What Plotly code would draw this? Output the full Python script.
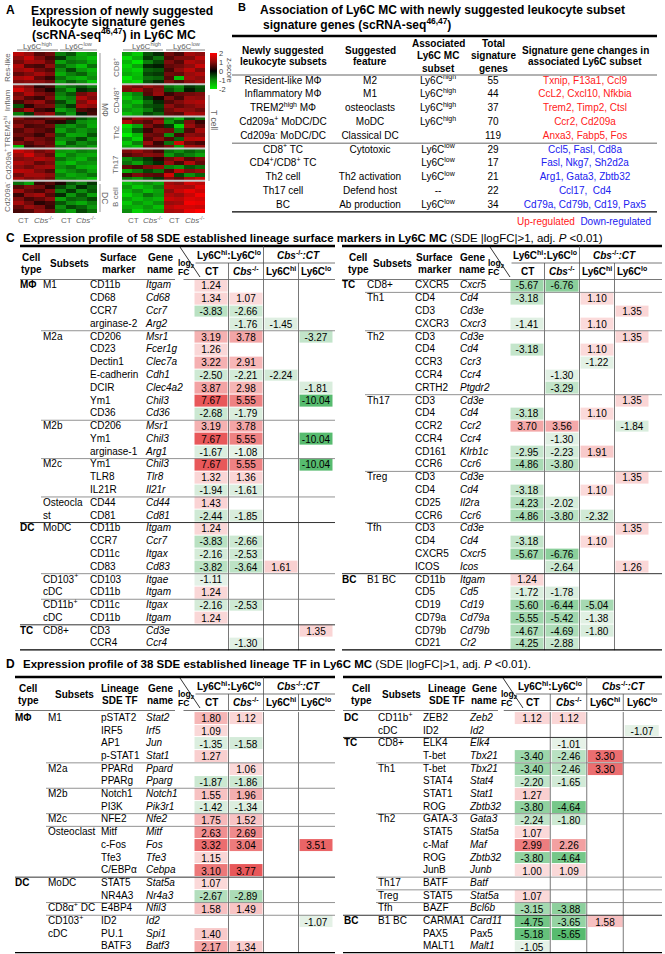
import plotly.graph_objects as go

W, H = 665, 954
FONT = "Liberation Sans, Arial, sans-serif"

# ---------------- A: scRNA-seq signature genes, z-scores (8 rows per block, 8 samples)
A_LEFT_LABELS = ["Res-like", "Inflam", "TREM2<sup>hi</sup>", "Cd209a<sup>+</sup>", "Cd209a<sup>-</sup>"]
A_RIGHT_LABELS = ["CD8<sup>+</sup>", "CD4/8<sup>+</sup>", "Th2", "Th17", "B cell"]
A_GROUPS = ["Ly6C<sup>high</sup>", "Ly6C<sup>low</sup>"]
A_SAMPLES = ["CT", "<i>Cbs</i><sup>-/-</sup>", "CT", "<i>Cbs</i><sup>-/-</sup>"]

A_RES_LIKE = [
    [1.4, 1.1, 0.6, 0.8, -0.9, -0.6, -1.3, -1.1],
    [1.0, 1.5, 0.9, 0.5, -0.4, -1.0, -1.2, -1.5],
    [0.8, 1.2, 1.1, 0.7, -1.2, -0.8, -0.9, -1.3],
    [1.3, 0.6, 0.5, 1.0, -0.7, -1.1, -1.5, -0.8],
    [1.1, 1.3, 0.8, 0.6, -1.0, -0.5, -1.1, -1.4],
    [0.7, 0.9, 1.2, 0.9, -1.3, -0.9, -0.7, -1.2],
    [1.2, 1.4, 0.7, 0.4, -0.8, -1.2, -1.4, -1.0],
    [0.9, 1.0, 1.0, 0.8, -1.1, -0.7, -1.0, -1.6],
]
A_INFLAM = [
    [1.2, 0.9, 0.3, 0.5, -1.0, -0.8, -0.6, -0.9],
    [1.6, 1.1, 0.6, 0.2, -0.7, -1.2, -0.3, -0.5],
    [0.8, 1.3, 0.9, 0.7, -0.9, -0.6, 0.8, 1.1],
    [1.0, 0.6, 0.4, 0.9, -1.1, -0.9, 1.3, 0.9],
    [0.5, 0.9, 1.1, 0.6, -0.5, -1.0, 0.9, 1.4],
    [-0.6, 0.3, 0.8, 0.9, -0.8, -0.4, 1.2, 1.0],
    [0.7, 1.2, 0.5, 0.3, -1.2, -0.9, 0.6, 0.4],
    [-0.9, -0.4, 0.9, 1.1, -0.6, -1.1, -0.2, 0.5],
]
A_TREM2 = [
    [0.9, 0.6, 0.5, 0.7, 0.8, 0.5, -0.6, -0.9],
    [0.7, 0.8, 0.9, 0.4, 0.3, -0.4, -1.0, -1.2],
    [1.0, 0.5, 0.6, 0.8, -0.9, -1.1, -0.8, -1.3],
    [0.6, 0.9, 0.7, 0.5, -1.2, -0.8, -1.1, -0.9],
    [0.8, 0.7, 0.4, 0.9, -0.7, -1.3, -1.2, -0.6],
    [0.5, 1.0, 0.8, 0.6, -1.0, -0.9, -0.5, -1.1],
    [0.9, 0.6, 0.9, 0.7, -1.4, -0.6, -1.0, -0.8],
    [-1.5, 0.4, 0.6, 0.8, -0.8, -1.0, -0.9, -1.2],
]
A_CD209_POS = [
    [1.5, 1.2, 0.8, 1.0, -1.1, -1.2, -0.9, -1.0],
    [1.1, 1.6, 1.0, 0.7, -1.4, -0.9, -1.2, -1.3],
    [0.9, 1.0, 1.3, 1.1, -0.8, -1.1, -1.4, -0.9],
    [1.3, 1.1, 0.7, 0.9, -1.2, -1.5, -1.0, -1.1],
    [1.0, 0.8, 1.1, 1.2, -1.0, -0.8, -1.3, -1.4],
    [1.4, 1.3, 0.9, 0.6, -1.3, -1.0, -0.8, -1.2],
    [0.8, 1.2, 1.2, 1.0, -0.9, -1.3, -1.1, -0.8],
    [1.2, 0.9, 1.0, 0.8, -1.1, -1.0, -1.2, -1.5],
]
A_CD209_NEG = [
    [-0.8, -1.2, 0.4, 0.6, 0.2, -0.6, -0.9, -0.4],
    [0.6, 0.9, 0.8, 0.3, -0.5, -0.9, -0.3, -0.7],
    [1.1, 0.7, 0.5, 0.9, -0.9, -0.4, -1.0, -0.6],
    [0.4, 1.0, 1.2, 0.6, -0.3, -1.1, -0.6, -1.2],
    [0.9, 0.5, 0.7, 1.0, -1.2, -0.7, -0.8, -0.5],
    [1.2, 0.8, 0.3, 0.5, -0.6, -1.0, -1.3, -0.9],
    [0.7, 1.1, 0.9, 0.4, -1.0, -0.5, -0.7, -1.1],
    [0.5, 0.6, 1.0, 0.8, -0.8, -1.2, -0.5, -0.8],
]
A_CD8 = [
    [-1.2, -1.6, -0.6, -0.3, 0.8, 0.5, 1.2, 1.0],
    [-1.8, -1.3, -0.4, -0.8, 0.6, 0.9, 0.9, 1.4],
    [-1.4, -1.9, -0.9, -0.5, 0.9, 0.6, 1.3, 1.1],
    [-1.7, -1.2, -0.3, -0.2, 0.7, 0.8, 1.0, 1.5],
    [-1.5, -1.7, -0.7, -0.6, 0.5, 1.0, 1.4, 0.9],
    [-1.3, -1.5, -0.5, -0.4, 0.8, 0.7, 1.1, 1.3],
    [-1.9, -1.4, -0.8, -0.7, 0.6, -1.5, 1.2, 1.0],
    [-1.6, -1.8, -0.6, -0.3, 0.9, 0.6, 1.0, 1.2],
]
A_CD48 = [
    [1.0, 0.8, 1.1, 0.9, -0.8, -1.0, -0.4, -0.6],
    [0.9, 1.2, 0.7, 1.0, -0.6, -0.9, -0.2, -0.5],
    [-1.3, -0.9, 0.6, 1.1, 0.4, 0.7, 0.8, 0.9],
    [-1.6, -1.1, -0.4, 0.2, 0.9, 0.5, 1.1, 1.0],
    [-1.2, -1.5, -0.8, -0.3, 0.6, 0.9, 1.2, 1.3],
    [-1.4, -1.0, -0.6, -0.5, 1.0, 0.7, 0.9, 1.1],
    [-1.1, -1.3, -0.9, -0.4, 0.8, 1.1, 1.0, 0.8],
    [-1.5, -1.2, -0.5, -0.7, 0.7, 0.6, 1.3, 1.2],
]
A_TH2 = [
    [0.7, 1.2, 1.0, 0.8, -0.9, -1.4, -0.5, -0.8],
    [1.3, 0.8, 0.6, 1.1, -1.1, -0.6, 0.9, 0.4],
    [-1.8, -1.2, 0.9, 0.5, -0.4, -1.7, 1.1, 0.7],
    [-1.5, -0.6, 0.4, 0.9, 0.8, -0.9, 0.6, 1.2],
    [-2.0, -1.4, 0.8, 0.7, -1.0, 0.5, 1.0, 0.9],
    [-1.1, -1.7, 0.6, 1.0, 0.6, -0.7, 1.3, 1.4],
    [-1.6, -0.9, 1.1, 0.4, -0.8, 1.6, 0.7, 0.5],
    [-1.3, -1.5, 0.7, 0.6, 0.9, -1.2, 1.2, 1.1],
]
A_TH17 = [
    [0.9, 1.1, 0.8, 0.5, -0.8, -1.0, -0.7, -0.9],
    [0.6, 0.8, 1.0, 0.9, -1.1, -0.7, -0.9, -1.2],
    [-1.0, -0.7, -0.4, 0.3, 0.8, 1.2, 0.6, 0.9],
    [-0.8, -1.2, -0.6, -0.3, 1.1, 0.5, 1.3, 0.7],
    [0.7, 0.5, 0.9, 1.1, -0.9, -1.1, -0.6, -0.8],
    [-1.3, -0.9, -0.5, -0.8, 0.6, 1.4, 0.9, 1.1],
    [0.5, 0.9, 0.7, 0.6, 1.6, -0.5, -1.0, -0.7],
    [-0.9, -1.1, -0.7, -0.4, 0.9, 0.7, 1.2, 1.5],
]
A_BCELL = [
    [-1.5, -1.2, -1.0, -1.3, 1.2, 1.0, 1.6, 1.4],
    [-1.1, -1.6, -1.3, -0.9, 1.4, 1.3, 1.2, 1.7],
    [-1.4, -1.0, -1.5, -1.2, 1.0, 1.5, 1.8, 1.5],
    [-1.7, -1.3, -0.8, -1.1, 1.3, 1.1, 1.5, 1.9],
    [-1.2, -1.5, -1.2, -1.4, 1.5, 1.4, 1.7, 1.6],
    [-1.6, -1.1, -1.4, -1.0, 1.1, 1.2, 1.9, 1.8],
    [-1.3, -1.4, -1.1, -1.5, 1.4, 1.6, 1.6, 1.5],
    [-1.0, -1.7, -1.3, -1.2, 1.2, 1.3, 1.8, 2.0],
]

# ---------------- B: association table
B_SUBSET = ["Resident-like MΦ", "Inflammatory MΦ", "TREM2<sup>high</sup> MΦ", "Cd209a<sup>+</sup> MoDC/DC",
            "Cd209a<sup>-</sup> MoDC/DC", "CD8<sup>+</sup> TC", "CD4<sup>+</sup>/CD8<sup>+</sup> TC",
            "Th2 cell", "Th17 cell", "BC"]
B_FEATURE = ["M2", "M1", "osteoclasts", "MoDC", "Classical DC", "Cytotoxic", "", "Th2 activation",
             "Defend host", "Ab production"]
B_ASSOC = ["Ly6C<sup>high</sup>"] * 4 + [""] + ["Ly6C<sup>low</sup>"] * 3 + ["--", "Ly6C<sup>low</sup>"]
B_TOTAL = [55, 44, 37, 70, 119, 29, 17, 21, 22, 34]
B_GENES = ["Txnip, F13a1, Ccl9", "CcL2, Cxcl10, Nfkbia", "Trem2, Timp2, Ctsl", "Ccr2, Cd209a",
           "Anxa3, Fabp5, Fos", "Ccl5, Fasl, Cd8a", "Fasl, Nkg7, Sh2d2a", "Arg1, Gata3, Zbtb32",
           "Ccl17,  Cd4", "Cd79a, Cd79b, Cd19, Pax5"]
B_DIRECTION = ["up"] * 5 + ["down"] * 5

# ---------------- C: surface markers, log2FC
C_L_TYPE = {0: "MΦ", 19: "DC", 27: "TC"}
C_L_SUBSET = {0: "M1", 4: "M2a", 11: "M2b", 14: "M2c", 17: "Osteocla", 18: "st", 19: "MoDC",
              23: "CD103<sup>+</sup>", 24: "cDC", 25: "CD11b<sup>+</sup>", 26: "cDC", 27: "CD8+"}
C_L_MARKER = ["CD11b", "CD68", "CCR7", "arginase-2", "CD206", "CD23", "Dectin1", "E-cadherin", "DCIR",
              "Ym1", "CD36", "CD206", "Ym1", "arginase-1", "Ym1", "TLR8", "IL21R", "CD44", "CD81",
              "CD11b", "CCR7", "CD11c", "CD83", "CD103", "CD11b", "CD11c", "CD11b", "CD3", "CCR4"]
C_L_GENE = ["Itgam", "Cd68", "Ccr7", "Arg2", "Msr1", "Fcer1g", "Clec7a", "Cdh1", "Clec4a2", "Chil3",
            "Cd36", "Msr1", "Chil3", "Arg1", "Chil3", "Tlr8", "Il21r", "Cd44", "Cd81", "Itgam", "Ccr7",
            "Itgax", "Cd83", "Itgae", "Itgam", "Itgax", "Itgam", "Cd3e", "Ccr4"]
C_L_CT = [1.24, 1.34, -3.83, None, 3.19, 1.26, 3.22, -2.50, 3.87, 7.67, -2.68, 3.19, 7.67, -1.67, 7.67,
          1.32, -1.94, 1.43, -2.44, 1.24, -3.83, -2.16, -3.82, -1.11, 1.24, -2.16, 1.24, None, None]
C_L_CBS = [None, 1.07, -2.66, -1.76, 3.78, None, 2.91, -2.21, 2.98, 5.55, -1.79, 3.78, 5.55, -1.08, 5.55,
           1.36, -1.61, None, -1.85, None, -2.66, -2.53, -3.64, None, None, -2.53, None, None, -1.30]
C_L_HI = [None, None, None, -1.45, None, None, None, -2.24, None, None, None, None, None, None, None,
          None, None, None, None, None, None, None, 1.61, None, None, None, None, None, None]
C_L_LO = [None, None, None, None, -3.27, None, None, None, -1.81, -10.04, None, None, -10.04, None, -10.04,
          None, None, None, None, None, None, None, None, None, None, None, None, 1.35, None]
C_L_SUB_BREAKS = [3.5, 10.5, 13.5, 16.5, 22.5, 24.5]
C_L_TYPE_BREAKS = [18.5, 26.5]

C_R_TYPE = {0: "TC", 23: "BC"}
C_R_SUBSET = {0: "CD8+", 1: "Th1", 4: "Th2", 9: "Th17", 15: "Treg", 19: "Tfh", 23: "B1 BC"}
C_R_MARKER = ["CXCR5", "CD4", "CD3", "CXCR3", "CD3", "CD4", "CCR3", "CCR4", "CRTH2", "CD3", "CD4", "CCR2",
              "CCR4", "CD161", "CCR6", "CD3", "CD4", "CD25", "CCR6", "CD3", "CD4", "CXCR5", "ICOS",
              "CD11b", "CD5", "CD19", "CD79a", "CD79b", "CD21"]
C_R_GENE = ["Cxcr5", "Cd4", "Cd3e", "Cxcr3", "Cd3e", "Cd4", "Ccr3", "Ccr4", "Ptgdr2", "Cd3e", "Cd4", "Ccr2",
            "Ccr4", "Klrb1c", "Ccr6", "Cd3e", "Cd4", "Il2ra", "Ccr6", "Cd3e", "Cd4", "Cxcr5", "Icos",
            "Itgam", "Cd5", "Cd19", "Cd79a", "Cd79b", "Cr2"]
C_R_CT = [-5.67, -3.18, None, -1.41, None, -3.18, None, None, None, None, -3.18, 3.70, None, -2.95, -4.86,
          None, -3.18, -4.23, -4.86, None, -3.18, -5.67, None, 1.24, -1.72, -5.60, -5.55, -4.67, -4.25]
C_R_CBS = [-6.76, None, None, None, None, None, None, -1.30, -3.29, None, None, 3.56, -1.30, -2.23, -3.80,
           None, None, -2.02, -3.80, None, None, -6.76, -2.64, None, -1.78, -6.44, -5.42, -4.69, -2.88]
C_R_HI = [None, 1.10, None, 1.10, None, 1.10, -1.22, None, None, None, 1.10, None, None, 1.91, None,
          None, 1.10, None, -2.32, None, 1.10, None, None, None, None, -5.04, -1.38, -1.80, None]
C_R_LO = [None, None, 1.35, None, 1.35, None, None, None, None, 1.35, None, -1.84, None, None, None,
          1.35, None, None, None, 1.35, None, None, 1.26, None, None, None, None, None, None]
C_R_SUB_BREAKS = [0.5, 3.5, 8.5, 14.5, 18.5]
C_R_TYPE_BREAKS = [22.5]

# ---------------- D: transcription factors, log2FC
D_L_TYPE = {0: "MΦ", 13: "DC"}
D_L_SUBSET = {0: "M1", 4: "M2a", 6: "M2b", 8: "M2c", 9: "Osteoclast", 13: "MoDC",
              15: "CD8α<sup>+</sup> DC", 16: "CD103<sup>+</sup>", 17: "cDC"}
D_L_TF = ["pSTAT2", "IRF5", "AP1", "p-STAT1", "PPARd", "PPARg", "Notch1", "PI3K", "NFE2", "Mitf", "c-Fos",
          "Tfe3", "C/EBPα", "STAT5", "NR4A3", "E4BP4", "ID2", "PU.1", "BATF3"]
D_L_GENE = ["Stat2", "Irf5", "Jun", "Stat1", "Ppard", "Pparg", "Notch1", "Pik3r1", "Nfe2", "Mitf", "Fos",
            "Tfe3", "Cebpa", "Stat5a", "Nr4a3", "Nfil3", "Id2", "Spi1", "Batf3"]
D_L_CT = [1.80, 1.09, -1.35, 1.27, None, -1.87, 1.55, -1.42, 1.75, 2.63, 3.32, 1.15, 3.10, 1.07, -2.67,
          1.58, None, 1.40, 2.17]
D_L_CBS = [1.12, None, -1.58, None, 1.06, -1.86, 1.96, -1.34, 1.52, 2.69, 3.04, None, 3.77, None, -2.89,
           1.49, None, None, 1.34]
D_L_HI = [None] * 19
D_L_LO = [None] * 10 + [3.51] + [None] * 5 + [-1.07, None, None]
D_L_SUB_BREAKS = [3.5, 5.5, 7.5, 8.5, 14.5, 15.5]
D_L_TYPE_BREAKS = [12.5]

D_R_TYPE = {0: "DC", 2: "TC", 16: "BC"}
D_R_SUBSET = {0: "CD11b<sup>+</sup>", 1: "cDC", 2: "CD8+", 4: "Th1", 8: "Th2", 13: "Th17", 14: "Treg",
              15: "Tfh", 16: "B1 BC"}
D_R_TF = ["ZEB2", "ID2", "ELK4", "T-bet", "T-bet", "STAT4", "STAT1", "ROG", "GATA-3", "STAT5", "c-Maf",
          "ROG", "JunB", "BATF", "STAT5", "BAZF", "CARMA1", "PAX5", "MALT1"]
D_R_GENE = ["Zeb2", "Id2", "Elk4", "Tbx21", "Tbx21", "Stat4", "Stat1", "Zbtb32", "Gata3", "Stat5a", "Maf",
            "Zbtb32", "Junb", "Batf", "Stat5a", "Bcl6b", "Card11", "Pax5", "Malt1"]
D_R_CT = [1.12, None, None, -3.40, -3.40, -2.20, 1.27, -3.80, -2.24, 1.07, 2.99, -3.80, 1.00, None, 1.07,
          -3.15, -4.75, -5.18, -1.05]
D_R_CBS = [1.12, None, -1.01, -2.46, -2.46, -1.65, None, -4.64, -1.80, None, 2.26, -4.64, 1.09, None, None,
           -3.88, -3.65, -5.65, None]
D_R_HI = [None, None, None, 3.30, 3.30] + [None] * 11 + [1.58, None, None]
D_R_LO = [None, -1.07] + [None] * 17
D_R_SUB_BREAKS = [3.5, 7.5, 12.5, 13.5, 14.5]
D_R_TYPE_BREAKS = [1.5, 15.5]
D_UPRIGHT_GENES = {"Pax5"}


fig = go.Figure()


def dom(top, bottom):
    return [1 - bottom / H, 1 - top / H]


def ann(x, y, text, size=10, anchor="center", color="black", angle=0, yref="y"):
    fig.add_annotation(x=x, y=y, xref="x", yref=yref, text=text, showarrow=False, xanchor=anchor,
                       yanchor="middle", textangle=angle, borderpad=0,
                       font=dict(family=FONT, size=size, color=color))


def line(x0, y0, x1, y1, width=1, color="black", yref="y"):
    fig.add_shape(type="line", x0=x0, y0=y0, x1=x1, y1=y1, xref="x", yref=yref,
                  line=dict(color=color, width=width))


def text_col(x, texts, yaxis, size=10, anchor="middle right", color="black"):
    rows = [i for i, t in enumerate(texts) if t]
    fig.add_trace(go.Scatter(x=[x] * len(rows), y=rows, mode="text", text=[texts[i] for i in rows],
                             textposition=anchor, yaxis=yaxis, hoverinfo="skip", cliponaxis=False,
                             marker=dict(size=1),
                             textfont=dict(family=FONT, size=size, color=color)))


def fc_scale(zmin, zmax):
    def p(v):
        return (v - zmin) / (zmax - zmin)
    return [[0, "#57bb6f"], [p(-1), "#e6f2e8"], [p(0), "#ffffff"], [p(1), "#fbdcdc"], [1, "#e8585a"]]


# ================= panel A =================
ann(5, 10, "<b>A</b>", size=12, anchor="left")
ann(30, 11, "<b>Expression of newly suggested</b>", size=12.2, anchor="left")
ann(31, 22, "<b>leukocyte signature genes</b>", size=12.2, anchor="left")
ann(31, 33.5, "<b>(scRNA-seq<sup>46,47</sup>) in Ly6C MC</b>", size=12.2, anchor="left")

A_SCALE = [[0, "#00f000"], [0.25, "#0c8c0c"], [0.5, "#000000"], [0.75, "#8c0c0c"], [1, "#ff0000"]]
a_left = A_RES_LIKE + A_INFLAM + A_TREM2 + A_CD209_POS + A_CD209_NEG
a_right = A_CD8 + A_CD48 + A_TH2 + A_TH17 + A_BCELL
n_a = len(a_left)
fig.add_trace(go.Heatmap(z=a_left, x0=18.25, dx=10.5, y0=0, dy=1, yaxis="y5", colorscale=A_SCALE,
                         zmin=-2, zmax=2, hoverinfo="skip",
                         colorbar=dict(x=210 / W, xanchor="left", y=1 - 53 / H, yanchor="top",
                                       len=36, lenmode="pixels", thickness=7, thicknessmode="pixels",
                                       outlinewidth=0, xpad=0, ypad=0, ticks="", ticklen=0,
                                       tickvals=[2, 1, 0, -1, -2], ticktext=["2", "1", "0", "-1", "-2"],
                                       tickfont=dict(family=FONT, size=7.5, color="#444"))))
fig.add_trace(go.Heatmap(z=a_right, x0=127.2, dx=10.4, y0=0, dy=1, yaxis="y5", colorscale=A_SCALE,
                         zmin=-2, zmax=2, showscale=False, hoverinfo="skip"))
ann(230, 70, "z-score", size=7.5, color="#444", angle=90)
for b in range(1, 5):
    line(13, b * 8 - 0.5, 97, b * 8 - 0.5, width=2, color="#c8c8c8", yref="y5")
    line(122, b * 8 - 0.5, 205, b * 8 - 0.5, width=2, color="#c8c8c8", yref="y5")
for b in range(5):
    ann(7, b * 8 + 3.5, A_LEFT_LABELS[b], size=8, color="#666", angle=-90, yref="y5")
    ann(116, b * 8 + 3.5, A_RIGHT_LABELS[b], size=8, color="#666", angle=-90, yref="y5")
for x0, x1 in [(17, 58), (60, 97), (123, 163), (166, 205)]:
    line(x0, 50, x1, 50, color="#888")
for i, cx in enumerate([37, 79, 146, 187]):
    ann(cx, 45.5, A_GROUPS[i % 2], size=8, color="#666")
for i, cx in enumerate([23, 44, 66, 86, 133, 153, 174, 195]):
    ann(cx, 220, A_SAMPLES[i % 4], size=8, color="#666")
line(100, 53, 100, 181, color="#999")
line(100, 184, 100, 212, color="#999")
line(209, 95, 209, 181, color="#999")
ann(105, 110, "MΦ", size=8.5, color="#666", angle=90)
ann(105, 198, "DC", size=8.5, color="#666", angle=90)
ann(214, 120, "T cell", size=8.5, color="#666", angle=90)

# ================= panel B =================
ann(237, 7, "<b>B</b>", size=11, anchor="left")
ann(259, 10, "<b>Association of Ly6C MC with newly suggested leukocyte subset</b>", size=12, anchor="left")
ann(262, 24, "<b>signature genes (scRNA-seq<sup>46,47</sup>)</b>", size=12, anchor="left")
line(232, 36, 657, 36, width=2.5)
B_X = [283, 370, 438, 493, 585]
for cx, lines_ in zip(B_X, [["Newly suggested", "leukocyte subsets"], ["Suggested", "feature"],
                            ["Associated", "Ly6C MC", "subset"], ["Total", "signature", "genes"],
                            ["Signature gene changes in", "associated Ly6C subset"]]):
    ys = [50, 61] if len(lines_) == 2 else [43, 55.5, 68]
    for yy, tt in zip(ys, lines_):
        ann(cx, yy, f"<b>{tt}</b>", size=10)
line(232, 75, 657, 75, width=1.5, color="#999")
b_colors = ["#ff2020" if d == "up" else "#2020f0" for d in B_DIRECTION]
text_col(B_X[0], B_SUBSET, "y4", size=10, anchor="middle center")
text_col(B_X[1], B_FEATURE, "y4", size=10, anchor="middle center")
text_col(B_X[2], B_ASSOC, "y4", size=10, anchor="middle center")
text_col(B_X[3], [str(v) for v in B_TOTAL], "y4", size=10, anchor="middle center")
fig.add_trace(go.Scatter(x=[B_X[4]] * len(B_GENES), y=list(range(len(B_GENES))), mode="text",
                         text=B_GENES, textposition="middle center", yaxis="y4", hoverinfo="skip",
                         textfont=dict(family=FONT, size=10, color=b_colors)))
line(232, 4.5, 657, 4.5, width=1.5, color="#999", yref="y4")
line(232, 9.5, 657, 9.5, width=2.5, yref="y4")
ann(652, 221, '<span style="color:#ff2020">Up-regulated</span>  '
              '<span style="color:#2020f0">Down-regulated</span>', size=10, anchor="right")


# ================= tables C and D =================
def table(pos, top, yaxis, kind, cell, subset, marker, gene, ct, cbs, hi, lo, sub_breaks, type_breaks,
          zmin, zmax):
    n = len(gene)
    x_left, x_right = pos["left"], pos["right"]
    v = pos["val"]
    dx = pos["dx"]
    # header
    line(x_left, top, x_right, top, width=2.5)
    ann(pos["h_cell"], top + 11, "<b>Cell</b>")
    ann(pos["h_cell"], top + 23, "<b>type</b>")
    ann(pos["h_sub"], top + 17, "<b>Subsets</b>")
    first, second = ("Surface", "marker") if kind == "C" else ("Lineage", "SDE TF")
    ann(pos["h_mk"], top + 11, f"<b>{first}</b>")
    ann(pos["h_mk"], top + 23, f"<b>{second}</b>")
    ann(pos["h_gene"], top + 11, "<b>Gene</b>")
    ann(pos["h_gene"], top + 23, "<b>name</b>")
    ann(pos["fc"], top + 17, "<b>log<sub>2</sub></b>", size=8.5, anchor="left")
    ann(pos["fc"], top + 26, "<b>FC</b>", size=8.5, anchor="left")
    line(pos["fc"] + 3, top + 1, pos["fc"] + 23, top + 31, width=0.8)
    ann(v + dx / 2, top + 9, "<b>Ly6C<sup>hi</sup>:Ly6C<sup>lo</sup></b>")
    ann(v + 2.5 * dx, top + 9, "<b><i>Cbs</i><sup>-/-</sup><i>:CT</i></b>")
    for k, t in enumerate(["CT", "<i>Cbs</i><sup>-/-</sup>", "Ly6C<sup>hi</sup>", "Ly6C<sup>lo</sup>"]):
        ann(v + k * dx, top + 25, f"<b>{t}</b>")
    line(v - dx / 2 + 2, top + 17, x_right, top + 17, width=0.8, color="#555")
    line(v - dx / 2 - 10, top + 33.5, x_right, top + 33.5, width=0.8, color="#555")
    line(x_left, top + 33.5, pos["fc"] - 2, top + 33.5, width=0.8, color="#555")
    # value cells
    z = [[ct[i], cbs[i], hi[i], lo[i]] for i in range(n)]
    txt = [["" if c is None else f"{c:.2f}" for c in r] for r in z]
    fig.add_trace(go.Heatmap(z=z, text=txt, texttemplate="%{text}", x0=v, dx=dx, y0=0, dy=1,
                             yaxis=yaxis, colorscale=fc_scale(zmin, zmax), zmin=zmin, zmax=zmax,
                             showscale=False, xgap=2, ygap=1, hoverinfo="skip",
                             textfont=dict(family=FONT, size=10, color="black")))
    # text columns
    text_col(pos["cell"], [f"<b>{cell[i]}</b>" if i in cell else "" for i in range(n)], yaxis)
    text_col(pos["sub"], [subset.get(i, "") for i in range(n)], yaxis)
    text_col(pos["mk"], marker, yaxis)
    text_col(pos["gene"], [g if g in D_UPRIGHT_GENES else f"<i>{g}</i>" for g in gene], yaxis)
    # rules
    for k in (1, 2, 3):
        y_start = top + 17 if k != 2 else top
        line(v - dx / 2 + k * dx, y_start, v - dx / 2 + k * dx, top + 33.5, width=0.8, color="#555")
        line(v - dx / 2 + k * dx, -0.5, v - dx / 2 + k * dx, n - 0.5, width=0.8, color="#555",
             yref=yaxis)
    for b in sub_breaks:
        line(pos["sub"] - 2, b, x_right, b, width=0.8, color="#777", yref=yaxis)
    for b in type_breaks:
        line(x_left, b, x_right, b, width=1, color="#333", yref=yaxis)
    line(x_left, n - 0.5, x_right, n - 0.5, width=2.5, yref=yaxis)


C_TOP, D_TOP = 246, 677
POS_C_L = dict(left=20, right=335, cell=20, sub=43, mk=90, gene=146, val=211, dx=35,
               h_cell=31, h_sub=69, h_mk=118, h_gene=160, fc=177)
POS_C_R = dict(left=342, right=662, cell=342, sub=367, mk=415, gene=460, val=527, dx=35,
               h_cell=358, h_sub=392, h_mk=434, h_gene=472, fc=487)
POS_D_L = dict(left=15, right=335, cell=15, sub=48, mk=101, gene=146, val=211, dx=35,
               h_cell=28, h_sub=74, h_mk=120, h_gene=160, fc=177)
POS_D_R = dict(left=343, right=662, cell=344, sub=378, mk=423, gene=470, val=532, dx=36.5,
               h_cell=361, h_sub=401, h_mk=447, h_gene=484, fc=500)

ann(5, 238, "<b>C</b>", size=12, anchor="left")
ann(22, 238, "<b>Expression profile of 58 SDE established lineage surface markers in Ly6C MC</b> "
             "(SDE |logFC|>1, adj. <i>P</i> <0.01)", size=11.5, anchor="left")
table(POS_C_L, C_TOP, "y2", "C", C_L_TYPE, C_L_SUBSET, C_L_MARKER, C_L_GENE, C_L_CT, C_L_CBS, C_L_HI,
      C_L_LO, C_L_SUB_BREAKS, C_L_TYPE_BREAKS, -10.04, 7.67)
table(POS_C_R, C_TOP, "y2", "C", C_R_TYPE, C_R_SUBSET, C_R_MARKER, C_R_GENE, C_R_CT, C_R_CBS, C_R_HI,
      C_R_LO, C_R_SUB_BREAKS, C_R_TYPE_BREAKS, -10.04, 7.67)

ann(5, 664, "<b>D</b>", size=12, anchor="left")
ann(22, 664, "<b>Expression profile of 38 SDE established lineage TF in Ly6C MC</b> "
             "(SDE |logFC|>1, adj. <i>P</i> <0.01).", size=11.5, anchor="left")
table(POS_D_L, D_TOP, "y3", "D", D_L_TYPE, D_L_SUBSET, D_L_TF, D_L_GENE, D_L_CT, D_L_CBS, D_L_HI,
      D_L_LO, D_L_SUB_BREAKS, D_L_TYPE_BREAKS, -5.65, 3.77)
table(POS_D_R, D_TOP, "y3", "D", D_R_TYPE, D_R_SUBSET, D_R_TF, D_R_GENE, D_R_CT, D_R_CBS, D_R_HI,
      D_R_LO, D_R_SUB_BREAKS, D_R_TYPE_BREAKS, -5.65, 3.77)

c_top = 286 - 12.786 / 2
d_top = 718.4 - 12.7 / 2
b_top = 81 - 13.83 / 2
hidden = dict(visible=False, fixedrange=True, anchor="x")
fig.update_layout(
    width=W, height=H, margin=dict(l=0, r=0, t=0, b=0), paper_bgcolor="white",
    plot_bgcolor="rgba(0,0,0,0)", showlegend=False,
    xaxis=dict(range=[0, W], domain=[0, 1], visible=False, fixedrange=True),
    yaxis=dict(range=[H, 0], domain=[0, 1], visible=False, fixedrange=True),
    yaxis2=dict(range=[28.5, -0.5], domain=dom(c_top, c_top + 29 * 12.786), **hidden),
    yaxis3=dict(range=[18.5, -0.5], domain=dom(d_top, min(H, d_top + 19 * 12.7)), **hidden),
    yaxis4=dict(range=[9.5, -0.5], domain=dom(b_top, b_top + 10 * 13.83), **hidden),
    yaxis5=dict(range=[n_a - 0.5, -0.5], domain=dom(52, 213), **hidden),
)

fig.write_html("out.html", config={"displayModeBar": False},
               post_script="document.body.style.margin='0px';")
